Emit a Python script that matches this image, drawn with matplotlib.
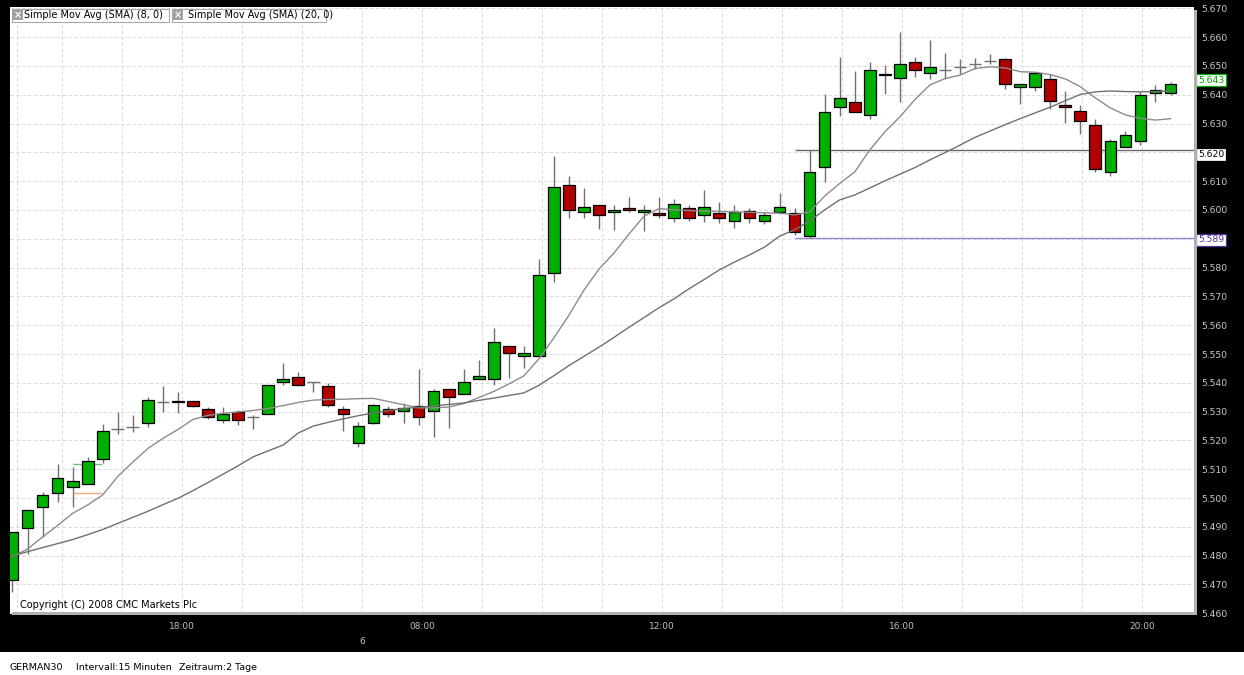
import numpy as np
import matplotlib
matplotlib.use('Agg')
import matplotlib.pyplot as plt
import matplotlib.transforms as mtransforms
from matplotlib.patches import Rectangle
from matplotlib.ticker import FuncFormatter

# GERMAN30, 15 minute candles (points)
opens = [5471.6, 5489.5, 5496.8, 5501.7, 5503.7, 5504.8, 5513.7, 5523.9, 5524.8, 5526.0,
         5533.2, 5533.7, 5533.6, 5530.8, 5527.0, 5529.8, 5528.0, 5529.1, 5540.2, 5541.9,
         5540.2, 5538.8, 5530.8, 5519.0, 5526.0, 5530.8, 5530.3, 5531.9, 5530.3, 5537.8,
         5536.0, 5541.2, 5541.2, 5552.7, 5549.2, 5549.2, 5578.0, 5608.7, 5599.2, 5601.6,
         5599.2, 5600.6, 5599.2, 5598.8, 5597.1, 5600.6, 5598.1, 5598.8, 5596.1, 5599.5,
         5596.1, 5599.2, 5598.8, 5591.1, 5614.8, 5635.6, 5637.4, 5632.9, 5647.1, 5645.7,
         5651.3, 5647.4, 5648.5, 5649.5, 5650.6, 5651.6, 5652.3, 5642.6, 5642.6, 5645.4,
         5636.3, 5634.2, 5629.4, 5613.1, 5621.8, 5623.8, 5640.5, 5640.5]
highs = [5488.3, 5495.8, 5502.2, 5511.7, 5510.7, 5514.4, 5525.7, 5530.0, 5528.8, 5535.0,
         5538.9, 5536.7, 5533.6, 5531.7, 5531.7, 5530.6, 5529.0, 5539.1, 5547.0, 5543.9,
         5540.2, 5539.8, 5532.0, 5526.5, 5532.5, 5532.0, 5532.9, 5544.7, 5537.8, 5537.8,
         5544.7, 5547.8, 5558.9, 5552.7, 5552.8, 5583.0, 5618.7, 5611.8, 5607.5, 5601.6,
         5601.6, 5604.6, 5601.6, 5604.6, 5603.7, 5601.7, 5606.8, 5602.7, 5601.7, 5600.6,
         5599.4, 5605.8, 5600.6, 5620.8, 5640.3, 5653.2, 5648.2, 5651.3, 5650.3, 5661.9,
         5653.0, 5659.0, 5654.4, 5652.3, 5652.6, 5654.0, 5652.6, 5643.6, 5647.8, 5647.1,
         5641.3, 5636.4, 5631.5, 5624.5, 5627.4, 5641.4, 5643.3, 5644.4]
lows = [5467.3, 5480.6, 5486.6, 5498.7, 5496.8, 5504.8, 5512.1, 5522.2, 5523.0, 5524.8,
        5530.0, 5529.4, 5531.5, 5527.3, 5526.2, 5525.3, 5523.9, 5529.1, 5539.3, 5538.8,
        5536.9, 5531.5, 5523.4, 5517.8, 5525.7, 5528.2, 5526.0, 5525.3, 5521.1, 5524.2,
        5536.0, 5541.2, 5539.1, 5541.6, 5545.0, 5549.2, 5575.1, 5597.3, 5597.1, 5593.3,
        5593.0, 5599.2, 5592.8, 5597.1, 5595.9, 5596.3, 5595.9, 5595.4, 5593.8, 5595.4,
        5595.0, 5598.5, 5591.3, 5590.2, 5609.8, 5632.7, 5633.9, 5631.6, 5640.3, 5637.6,
        5646.0, 5645.4, 5645.4, 5647.1, 5648.8, 5650.6, 5641.9, 5636.7, 5641.4, 5634.9,
        5630.1, 5626.3, 5613.3, 5611.9, 5621.8, 5622.6, 5637.6, 5639.8]
closes = [5488.3, 5495.8, 5501.0, 5506.9, 5505.9, 5512.8, 5523.3, 5523.9, 5524.8, 5533.9,
          5533.2, 5533.4, 5532.1, 5528.0, 5529.2, 5527.0, 5528.0, 5539.1, 5541.2, 5539.1,
          5540.2, 5532.2, 5529.1, 5524.9, 5532.2, 5529.1, 5531.2, 5528.0, 5537.1, 5535.0,
          5540.2, 5542.3, 5554.1, 5550.3, 5550.3, 5577.3, 5607.9, 5599.9, 5600.9, 5598.1,
          5599.9, 5599.9, 5599.9, 5598.1, 5602.0, 5597.1, 5600.9, 5597.1, 5599.2, 5597.1,
          5598.1, 5600.9, 5592.2, 5613.1, 5633.9, 5638.8, 5633.9, 5648.5, 5646.8, 5650.6,
          5648.5, 5649.5, 5648.5, 5649.5, 5650.6, 5651.6, 5643.6, 5643.6, 5647.4, 5637.7,
          5635.6, 5630.8, 5614.1, 5623.8, 5625.9, 5639.8, 5641.5, 5643.6]

# moving averages as drawn on the chart
sma8 = [5479.7, 5482.3, 5486.5, 5490.5, 5494.7, 5497.6, 5501.1, 5507.5, 5512.5, 5517.2,
        5520.7, 5523.8, 5527.3, 5528.7, 5529.4, 5529.9, 5530.4, 5531.1, 5532.1, 5533.2,
        5534.0, 5534.2, 5534.3, 5534.5, 5534.6, 5533.5, 5532.4, 5531.3, 5531.3, 5531.6,
        5532.8, 5534.9, 5537.0, 5539.6, 5542.4, 5548.3, 5555.6, 5563.5, 5572.2, 5579.5,
        5585.1, 5591.7, 5597.9, 5600.5, 5600.0, 5599.8, 5599.6, 5599.5, 5599.3, 5599.2,
        5599.0, 5598.9, 5598.3, 5599.3, 5604.8, 5609.2, 5613.2, 5620.8, 5627.1, 5632.3,
        5638.3, 5643.4, 5645.6, 5646.8, 5649.1, 5649.7, 5649.3, 5648.0, 5647.8, 5647.0,
        5645.5, 5642.8, 5638.9, 5635.4, 5633.0, 5631.8, 5631.2, 5631.7]
sma20 = [5479.9, 5481.4, 5482.8, 5484.2, 5485.6, 5487.3, 5489.1, 5491.2, 5493.3, 5495.4,
         5497.7, 5499.9, 5502.6, 5505.4, 5508.3, 5511.2, 5514.3, 5516.4, 5518.4, 5522.6,
         5525.0, 5526.3, 5527.5, 5528.6, 5529.5, 5530.4, 5531.1, 5531.5, 5532.0, 5532.5,
         5533.0, 5533.9, 5534.7, 5535.6, 5536.5, 5539.1, 5542.5, 5546.0, 5549.2, 5552.4,
         5555.8, 5559.3, 5562.7, 5566.1, 5569.2, 5572.7, 5575.9, 5579.2, 5581.9, 5584.4,
         5587.1, 5590.9, 5593.1, 5596.2, 5600.0, 5603.5, 5605.2, 5607.6, 5610.1, 5612.4,
         5614.7, 5617.4, 5619.9, 5622.5, 5625.2, 5627.4, 5629.6, 5631.7, 5633.7, 5635.7,
         5637.9, 5640.1, 5641.0, 5641.3, 5641.1, 5641.0, 5641.1, 5641.3]

time_labels = ['18:00', '08:00', '12:00', '16:00', '20:00']
day_label = '6'
last_price = 5643
level_hi, level_hi_label = 5620.7, '5.620'
level_lo, level_lo_label = 5590.3, '5.589'
legend_items = ['Simple Mov Avg (SMA) (8, 0)', 'Simple Mov Avg (SMA) (20, 0)']

W, H = 1244, 675
GREEN = '#00b000'
RED = '#b00000'
GRID = '#dcdcdc'


def fx(px):
    return px / W


def fy(py):
    return 1 - py / H


plt.rcParams['font.family'] = ['DejaVu Sans']

fig = plt.figure(figsize=(W / 100, H / 100), dpi=100, facecolor='black')
ax = fig.add_axes([fx(10), fy(614), fx(1194) - fx(10), fy(7) - fy(614)])
ax.set_facecolor('white')
for s in ax.spines.values():
    s.set_visible(False)

o = np.array(opens)
h = np.array(highs)
l = np.array(lows)
c = np.array(closes)
idx = np.arange(len(c))

# wicks
ax.vlines(idx, l, h, color='#707070', lw=1, zorder=2)

# bodies (flat candles are drawn as a grey cross)
solid = np.abs(c - o) >= 0.05
cols = np.where(c >= o, GREEN, RED)
ax.bar(idx[solid], (c - o)[solid], bottom=o[solid], width=0.78,
       color=cols[solid], edgecolor='black', linewidth=0.9, zorder=3)
ax.hlines(o[~solid], idx[~solid] - 0.42, idx[~solid] + 0.42,
          color='#707070', lw=1, zorder=3)

# moving averages
ax.plot(idx, sma8, color='#8c8c8c', lw=1, zorder=4)
ax.plot(idx, sma20, color='#707070', lw=1, zorder=4)

# small marks near the start
ax.hlines(5511.7, 4.0, 5.95, color='#70b870', lw=1, zorder=2.5)
ax.hlines(5501.7, 4.0, 5.95, color='#f0a880', lw=1, zorder=2.5)

xmin, xmax = -0.166, 78.56
ax.hlines(level_hi, 52, xmax, color='#6a6a6a', lw=1, zorder=1.5)
ax.hlines(level_lo, 52, xmax, color='#9888cc', lw=1, zorder=1.5)

ax.set_xlim(xmin, xmax)
ax.set_ylim(5459.76, 5670.45)

# grid / ticks
ax.set_yticks(np.arange(5460, 5671, 10))
ax.yaxis.set_major_formatter(FuncFormatter(lambda v, p: '5.%03d' % (int(round(v)) - 5000)))
ax.yaxis.tick_right()
ax.tick_params(axis='y', length=0, pad=5.5, labelsize=6.7, labelcolor='#c8c8c8')

grid_pos = [0.3] + list(np.linspace(3.29, 75.1, 19))
ax.set_xticks(grid_pos)
xl = [''] * len(grid_pos)
for j, lab in zip([2, 6, 10, 14, 18], time_labels):
    xl[j + 1] = lab
ax.set_xticklabels(xl)
ax.tick_params(axis='x', length=0, pad=6, labelsize=6.5, labelcolor='#c0c0c0')
ax.grid(True, color=GRID, lw=0.72, linestyle=(0, (3.6, 2.2)), zorder=0)
ax.set_axisbelow(True)

ax.text(grid_pos[6], -0.046, day_label,
        transform=mtransforms.blended_transform_factory(ax.transData, ax.transAxes),
        ha='center', va='center', fontsize=6.5, color='#c0c0c0', clip_on=False)

# price boxes on the right
tr = mtransforms.blended_transform_factory(ax.transAxes, ax.transData)
box_specs = [(5645.1, '5.%03d' % (last_price - 5000), '#00a000', '#00b000'),
             (5619.3, level_hi_label, 'black', 'black'),
             (5589.6, level_lo_label, '#5030a0', '#5030a0')]
for yv, txt, tc, ec in box_specs:
    ax.text(1.0035, yv, txt, transform=tr, ha='left', va='center', fontsize=6.7, color=tc,
            bbox=dict(boxstyle='square,pad=0.2', fc='white', ec=ec, lw=0.9),
            clip_on=False, zorder=10)

ax.text(10 / 1184, (614 - 604.5) / 607, 'Copyright (C) 2008 CMC Markets Plc',
        transform=ax.transAxes, fontsize=7, va='center', ha='left', color='black', zorder=6)

# legend boxes at the top
for (x0, x1, tx), lab in zip([(12, 169, 24.5), (172, 326, 188)], legend_items):
    fig.add_artist(Rectangle((fx(x0), fy(22)), (x1 - x0) / W, 13 / H, transform=fig.transFigure,
                             fc='white', ec='#a8a8a8', lw=0.8, zorder=5))
    fig.add_artist(Rectangle((fx(x0 + 1), fy(20)), 10 / W, 10 / H, transform=fig.transFigure,
                             fc='#a0a0a0', ec='none', zorder=6))
    fig.text(fx(x0 + 6), fy(15.2), '\u00d7', color='white', fontsize=7, fontweight='bold',
             ha='center', va='center', zorder=7)
    fig.text(fx(tx), fy(15.5), lab, fontsize=7, ha='left', va='center', color='black', zorder=7)

# shadow edges of the plot panel
fig.add_artist(Rectangle((fx(1194), fy(615)), 3 / W, 605 / H, transform=fig.transFigure,
                         fc='#b0b0b0', ec='none', zorder=5))
fig.add_artist(Rectangle((fx(12), fy(615)), 1185 / W, 3 / H, transform=fig.transFigure,
                         fc='#b0b0b0', ec='none', zorder=5))

# footer strip
fig.add_artist(Rectangle((0, 0), 1, 23 / H, transform=fig.transFigure, fc='white', ec='none'))
fig.text(fx(10), fy(668), 'GERMAN30', fontsize=6.8, va='center', ha='left', color='black')
fig.text(fx(76), fy(668), 'Intervall:15 Minuten', fontsize=6.8, va='center', ha='left', color='black')
fig.text(fx(179), fy(668), 'Zeitraum:2 Tage', fontsize=6.8, va='center', ha='left', color='black')

fig.savefig('out.png', dpi=100, facecolor='black')
